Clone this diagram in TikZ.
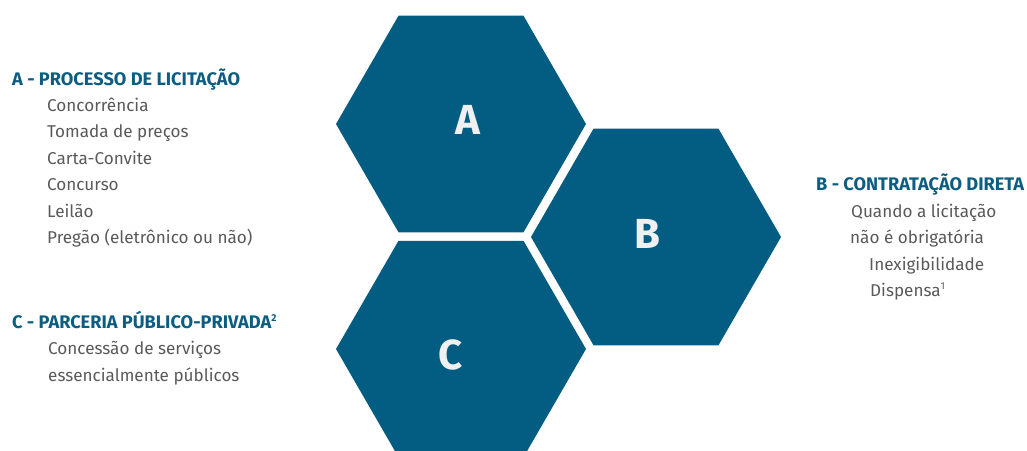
\documentclass[tikz,border=0pt]{standalone}
\usepackage{fontspec}
\setmainfont{Fira Sans}
\usetikzlibrary{shapes.geometric}
\definecolor{hexblue}{HTML}{035D83}
\definecolor{headblue}{HTML}{0D5D82}
\definecolor{bodygray}{HTML}{595959}
\definecolor{lettercol}{HTML}{F0F0F0}
\newcommand{\supnum}[1]{\raisebox{0.7ex}{\fontsize{10}{10}\selectfont #1}}
\tikzset{
  hexcell/.style={regular polygon, regular polygon sides=6, minimum size=250pt, inner sep=0pt, outer sep=0pt, fill=hexblue, draw=none},
  hexletter/.style={font=\fontsize{42}{42}\selectfont\bfseries, text=lettercol, inner sep=0pt},
  headtext/.style={anchor=base west, inner sep=0pt, font=\fontsize{18.2}{18.2}\selectfont\bfseries, text=headblue},
  bodytext/.style={anchor=base west, inner sep=0pt, font=\fontsize{17.1}{17.1}\selectfont, text=bodygray}
}
\begin{document}
\begin{tikzpicture}[x=1pt,y=-1pt]
\useasboundingbox (0,0) rectangle (1027,450);
\begin{scope}
\clip (0,0) rectangle (1027,450);
\node[hexcell] (hA) at (461,124) {};
\node[hexcell] (hB) at (656,237) {};
\node[hexcell] (hC) at (461,349) {};
\end{scope}
\node[hexletter] (lA) at (468,120) {A};
\node[hexletter] (lB) at (647,234) {B};
\node[hexletter] (lC) at (451,355) {C};
% A list
\node[headtext] (tA) at (12,85) {A - PROCESSO DE LICITAÇÃO};
\node[bodytext] (a1) at (47,111) {Concorrência};
\node[bodytext] (a2) at (47,137.5) {Tomada de preços};
\node[bodytext] (a3) at (47,164) {Carta-Convite};
\node[bodytext] (a4) at (47,190.5) {Concurso};
\node[bodytext] (a5) at (47,217) {Leilão};
\node[bodytext] (a6) at (47,243.5) {Pregão (eletrônico ou não)};
% C list
\node[headtext] (tC) at (12,328) {C - PARCERIA PÚBLICO-PRIVADA\supnum{2}};
\node[bodytext] (c1) at (48,354) {Concessão de serviços};
\node[bodytext] (c2) at (48,381) {essencialmente públicos};
% B list
\node[headtext] (tB) at (816,190) {B - CONTRATAÇÃO DIRETA};
\node[bodytext] (b1) at (851,217) {Quando a licitação};
\node[bodytext] (b2) at (850,243.5) {não é obrigatória};
\node[bodytext] (b3) at (869,270) {Inexigibilidade};
\node[bodytext] (b4) at (870,296) {Dispensa\supnum{1}};
\end{tikzpicture}
\end{document}
